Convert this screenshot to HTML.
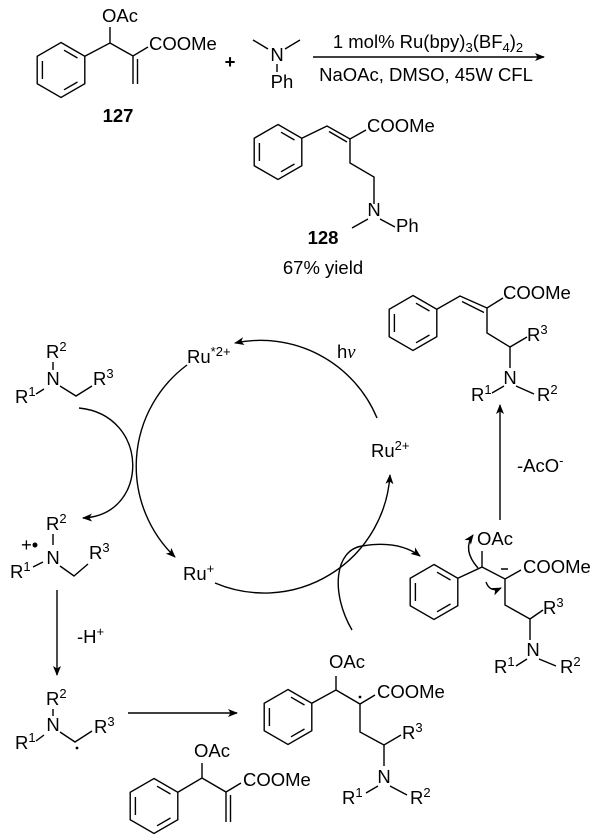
<!DOCTYPE html>
<html><head><meta charset="utf-8"><style>
html,body{margin:0;padding:0;background:#fff;}
svg{display:block;}
text{font-family:"Liberation Sans",Arial,sans-serif;font-size:18.5px;fill:#000;}
.b{font-weight:bold;}
</style></head><body>
<svg width="600" height="839" viewBox="0 0 600 839" xmlns="http://www.w3.org/2000/svg">
<defs>
<marker id="ah" markerWidth="10" markerHeight="8" refX="9" refY="4" orient="auto" markerUnits="userSpaceOnUse">
<path d="M0,0 L10,4 L0,8 L2.5,4 Z" fill="#000"/></marker>
<g id="ring" fill="none" stroke="#000" stroke-width="1.4">
<polygon points="0,-27.5 23.8,-13.75 23.8,13.75 0,27.5 -23.8,13.75 -23.8,-13.75"/>
<line x1="-18.6" y1="-9" x2="-18.6" y2="9"/>
<line x1="3" y1="-19.8" x2="16.5" y2="-12"/>
<line x1="16.5" y1="12" x2="3" y2="19.8"/>
</g>
</defs>
<g stroke="#000" stroke-width="1.4" fill="none">
<path d="M84.8,56.25 L110,43 L110,27 M110,43 L133,56 L148,47 M133,56 L133,84 M137.5,59 L137.5,84"/>
<path d="M253,40 L268,49 M300,40 L285,49 M277,64 L277,72"/>
<line x1="313" y1="57" x2="544" y2="57" marker-end="url(#ah)"/>
<path d="M301.8,138.25 L327,126 L350,139 L366,130 M329,131.5 L347,142 M350,139 L350,163 L374,177 L374,204 M368,219 L352,228 M380,219 L395,227"/>
<path d="M436.8,309.25 L460,296 L487,308 L503,298 M462,301.5 L484,312.5 M487,308 L487,333 L510,347 L527,337 M510,347 L510,368 M504,386 L492,393 M516,386 L534,394"/>
<line x1="500" y1="520" x2="500" y2="405" marker-end="url(#ah)"/>
<path d="M457.8,578.25 L482,567 L482,551 M482,567 L505,579 L521,570 M501,569 L508,569 M505,579 L505,605 L530,619 L543,610 M530,619 L530,640 M527,659 L516,666 M539,659 L556,666"/>
<path d="M478,568 Q462,550 473,535" marker-end="url(#ah)"/>
<path d="M486,582 Q490,593 501,588" marker-end="url(#ah)"/>
<path d="M311.8,703.25 L336,690 L336,676 M336,690 L360,704 L375,695 M360,704 L360,732 L384,745 L401,735 M384,745 L384,766 M378,786 L366,793 M390,786 L407,795"/>
<path d="M177.8,792.25 L202,778 L202,763 M202,778 L226,792 L241,783 M226,792 L226,822 M230.5,795 L230.5,822"/>
<path d="M53,362 L53,370 M60,386 L76,396 L92,386 M36,394 L44,389"/>
<path d="M53,534 L53,545 M60,566 L74,576 L88,564 M33,567 L43,562"/>
<path d="M53,709 L53,716 M60,732 L75,742 L92,731 M36,741 L44,735"/>
<line x1="57" y1="590" x2="57" y2="675" marker-end="url(#ah)"/>
<line x1="128" y1="713" x2="237" y2="713" marker-end="url(#ah)"/>
<path d="M377,418 A126,126 0 0 0 235,343" marker-end="url(#ah)"/>
<path d="M187,365 A126,126 0 0 0 175,557" marker-end="url(#ah)"/>
<path d="M215,583 A126,126 0 0 0 390,475" marker-end="url(#ah)"/>
<path d="M79,408 C150,415 150,515 83,518" marker-end="url(#ah)"/>
<path d="M352,630 C330,592 335,550 362,546 C385,542 405,545 420,556" marker-end="url(#ah)"/>
</g>
<use href="#ring" transform="translate(61,70)"/>
<use href="#ring" transform="translate(278,152)"/>
<use href="#ring" transform="translate(413,323)"/>
<use href="#ring" transform="translate(434,592)"/>
<use href="#ring" transform="translate(288,717)"/>
<use href="#ring" transform="translate(154,806)"/>
<circle cx="360" cy="697" r="1.4" fill="#000"/>
<circle cx="77" cy="748" r="1.4" fill="#000"/>

<text x="102" y="22">OAc</text>
<text x="149" y="50">COOMe</text>
<text class="b" x="118" y="122" text-anchor="middle">127</text>
<text x="230" y="68" text-anchor="middle" class="b">+</text>
<text x="277" y="61" text-anchor="middle">N</text>
<text x="282" y="88" text-anchor="middle">Ph</text>
<text x="428" y="48" text-anchor="middle">1 mol% Ru(bpy)<tspan font-size="13" dy="4">3</tspan><tspan dy="-4">(BF</tspan><tspan font-size="13" dy="4">4</tspan><tspan dy="-4">)</tspan><tspan font-size="13" dy="4">2</tspan></text>
<text x="426" y="81" text-anchor="middle">NaOAc, DMSO, 45W CFL</text>

<text x="367" y="132">COOMe</text>
<text x="374" y="216" text-anchor="middle">N</text>
<text x="396" y="232">Ph</text>
<text class="b" x="323" y="244" text-anchor="middle">128</text>
<text x="323" y="274" text-anchor="middle">67% yield</text>

<text x="503" y="299">COOMe</text>
<text x="527" y="341">R<tspan font-size="13" dy="-7">3</tspan></text>
<text x="510" y="384" text-anchor="middle">N</text>
<text x="471" y="401">R<tspan font-size="13" dy="-7">1</tspan></text>
<text x="537" y="401">R<tspan font-size="13" dy="-7">2</tspan></text>
<text x="517" y="472">-AcO<tspan font-size="13" dy="-7">-</tspan></text>

<text x="187" y="363">Ru<tspan font-size="13" dy="-7">*2+</tspan></text>
<text x="337" y="358">h<tspan font-family="Liberation Serif,serif" font-style="italic">ν</tspan></text>
<text x="371" y="457">Ru<tspan font-size="13" dy="-7">2+</tspan></text>
<text x="183" y="580">Ru<tspan font-size="13" dy="-7">+</tspan></text>

<text x="477" y="545">OAc</text>
<text x="523" y="573">COOMe</text>
<text x="543" y="614">R<tspan font-size="13" dy="-7">3</tspan></text>
<text x="533" y="656" text-anchor="middle">N</text>
<text x="494" y="673">R<tspan font-size="13" dy="-7">1</tspan></text>
<text x="560" y="673">R<tspan font-size="13" dy="-7">2</tspan></text>

<text x="329" y="668">OAc</text>
<text x="377" y="698">COOMe</text>
<text x="402" y="739">R<tspan font-size="13" dy="-7">3</tspan></text>
<text x="384" y="783" text-anchor="middle">N</text>
<text x="342" y="804">R<tspan font-size="13" dy="-7">1</tspan></text>
<text x="410" y="804">R<tspan font-size="13" dy="-7">2</tspan></text>

<text x="194" y="757">OAc</text>
<text x="243" y="786">COOMe</text>

<text x="46" y="358">R<tspan font-size="13" dy="-7">2</tspan></text>
<text x="53" y="385" text-anchor="middle">N</text>
<text x="93" y="385">R<tspan font-size="13" dy="-7">3</tspan></text>
<text x="15" y="403">R<tspan font-size="13" dy="-7">1</tspan></text>

<text x="46" y="530">R<tspan font-size="13" dy="-7">2</tspan></text>
<text x="21" y="551" font-size="12">+•</text>
<text x="53" y="564" text-anchor="middle">N</text>
<text x="89" y="559">R<tspan font-size="13" dy="-7">3</tspan></text>
<text x="10" y="578">R<tspan font-size="13" dy="-7">1</tspan></text>

<text x="77" y="643">-H<tspan font-size="13" dy="-7">+</tspan></text>

<text x="46" y="705">R<tspan font-size="13" dy="-7">2</tspan></text>
<text x="53" y="731" text-anchor="middle">N</text>
<text x="94" y="733">R<tspan font-size="13" dy="-7">3</tspan></text>
<text x="15" y="749">R<tspan font-size="13" dy="-7">1</tspan></text>
</svg>
</body></html>
